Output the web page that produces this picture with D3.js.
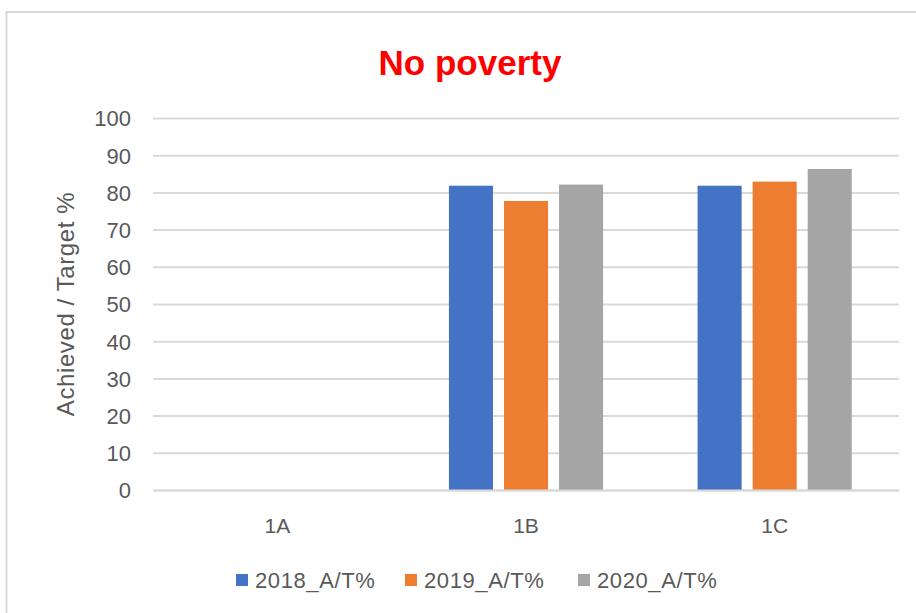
<!DOCTYPE html>
<html><head><meta charset="utf-8">
<script src="https://cdn.jsdelivr.net/npm/d3@7"></script>
<style>body{margin:0;background:#fff}svg{display:block}</style>
</head><body>
<script>
const categories = ["1A","1B","1C"];
const seriesNames = ["2018_A/T%","2019_A/T%","2020_A/T%"];
const s2018 = [null, 81.8, 81.8];
const s2019 = [null, 77.7, 82.9];
const s2020 = [null, 82.1, 86.3];
const yTicks = [0,10,20,30,40,50,60,70,80,90,100];
const colors = ["#4472C4","#ED7D31","#A5A5A5"];
const seriesValues = [s2018, s2019, s2020];

const W = 916, H = 613;
const svg = d3.select("body").append("svg").attr("width", W).attr("height", H);
const font = "'Liberation Sans', Arial, sans-serif";

// chart border (top & left visible)
svg.append("path").attr("d", `M6.5,${H} V12 H${W}`).attr("fill","none").attr("stroke","#D9D9D9").attr("stroke-width",2);

const m = {left:153, right:899, top:118, bottom:490};
const x = d3.scaleBand().domain(categories).range([m.left, m.right]);
const y = d3.scaleLinear().domain([0,100]).range([m.bottom, m.top]);
const groupW = x.bandwidth()*0.62;
const x1 = d3.scaleBand().domain(seriesNames).range([-groupW/2, groupW/2]).paddingInner(0.2);

// gridlines
const yAxis = d3.axisLeft(y).tickValues(yTicks).tickSize(-(m.right-m.left)).tickPadding(22);
const gy = svg.append("g").attr("transform",`translate(${m.left},0)`).call(yAxis);
gy.select(".domain").remove();
gy.selectAll(".tick line").attr("stroke","#D9D9D9").attr("stroke-width",2);
gy.selectAll(".tick text").attr("fill","#595959").style("font-family",font).style("font-size","22px").attr("dy","0.36em");

// bars
seriesValues.forEach((vals, si) => {
  svg.append("g").selectAll("rect").data(categories.map((c,i)=>({c, v: vals[i]})).filter(d=>d.v!=null))
    .join("rect")
    .attr("x", d => x(d.c) + x.bandwidth()/2 + x1(seriesNames[si]))
    .attr("width", x1.bandwidth())
    .attr("y", d => y(d.v))
    .attr("height", d => y(0) - y(d.v))
    .attr("fill", colors[si]);
});

// x axis
const xAxis = d3.axisBottom(x).tickSize(0).tickPadding(28);
const gx = svg.append("g").attr("transform",`translate(0,${m.bottom})`).call(xAxis);
gx.select(".domain").attr("stroke","#D9D9D9").attr("stroke-width",2);
gx.selectAll(".tick text").attr("fill","#595959").style("font-family",font).style("font-size","21px");

// title
svg.append("text").attr("x",470).attr("y",75).attr("text-anchor","middle")
  .attr("fill","#FF0000").style("font-family",font).style("font-size","35px").style("font-weight","bold")
  .text("No poverty");

// y axis title
svg.append("text").attr("transform","translate(74,304) rotate(-90)").attr("text-anchor","middle")
  .attr("fill","#595959").style("font-family",font).style("font-size","24px").style("letter-spacing","0.6px")
  .text("Achieved / Target %");

// legend
const legX = [236, 405, 578];
seriesNames.forEach((n,i)=>{
  const g = svg.append("g").attr("transform",`translate(${legX[i]},580)`);
  g.append("rect").attr("x",0).attr("y",-6).attr("width",12).attr("height",12).attr("fill",colors[i]);
  g.append("text").attr("x",19).attr("y",8).attr("fill","#595959").style("font-family",font).style("font-size","22px").style("letter-spacing","0.6px").text(n);
});
</script>
</body></html>
